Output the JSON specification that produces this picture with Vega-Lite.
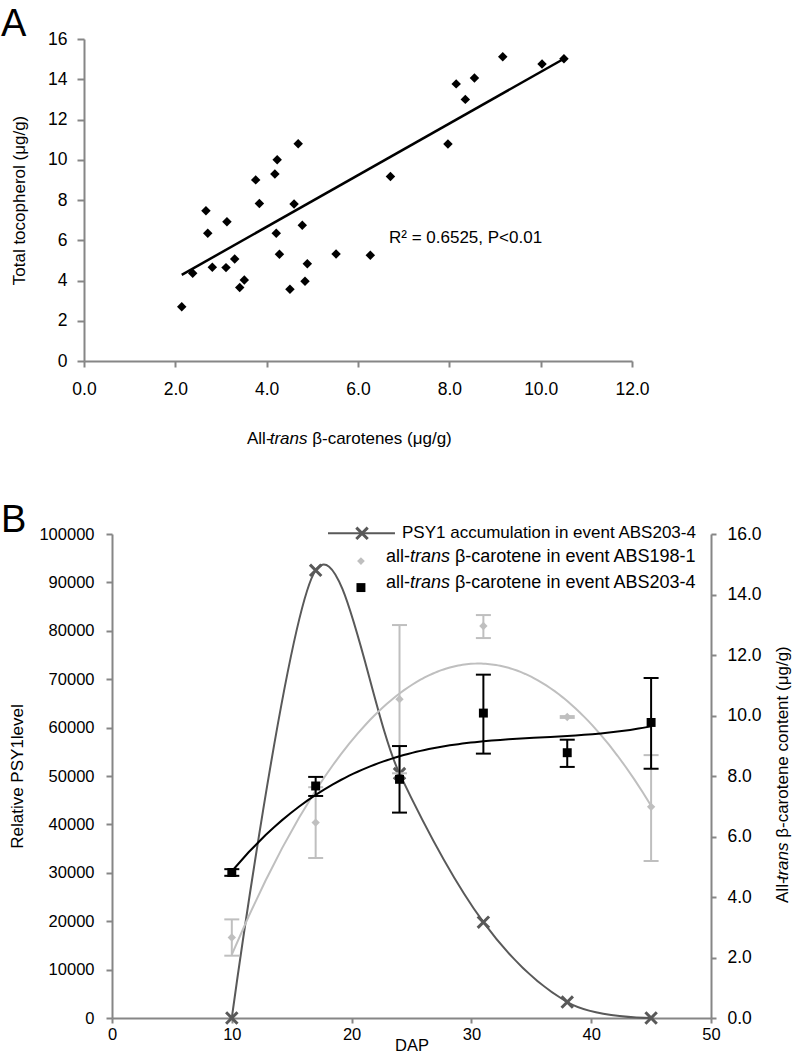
{
  "$schema": "https://vega.github.io/schema/vega-lite/v6.json",
  "background": "white",
  "padding": {"left": 1, "top": 5, "right": 0, "bottom": 0},
  "spacing": 55,
  "config": {
    "font": "Liberation Sans",
    "view": {"stroke": null},
    "axis": {"grid": false, "domainColor": "#868686", "domainWidth": 2, "tickColor": "#868686", "tickWidth": 2, "labelColor": "#000000", "labelFont": "Liberation Sans", "titleFont": "Liberation Sans", "titleFontWeight": "normal", "titleColor": "#000000", "labelFlush": false, "labelOverlap": false},
    "text": {"font": "Liberation Sans", "color": "#000000"}
  },
  "datasets": {
    "scatter": [
      {"beta": 2.14, "toco": 2.70}, {"beta": 2.38, "toco": 4.36}, {"beta": 2.67, "toco": 7.46}, {"beta": 2.71, "toco": 6.35},
      {"beta": 2.81, "toco": 4.66}, {"beta": 3.11, "toco": 4.64}, {"beta": 3.13, "toco": 6.92}, {"beta": 3.30, "toco": 5.07},
      {"beta": 3.41, "toco": 3.65}, {"beta": 3.51, "toco": 4.03}, {"beta": 3.76, "toco": 9.00}, {"beta": 3.84, "toco": 7.83},
      {"beta": 4.18, "toco": 9.29}, {"beta": 4.23, "toco": 10.00}, {"beta": 4.21, "toco": 6.35}, {"beta": 4.28, "toco": 5.31},
      {"beta": 4.51, "toco": 3.57}, {"beta": 4.60, "toco": 7.80}, {"beta": 4.69, "toco": 10.80}, {"beta": 4.78, "toco": 6.75},
      {"beta": 4.84, "toco": 3.96}, {"beta": 4.89, "toco": 4.83}, {"beta": 5.52, "toco": 5.32}, {"beta": 6.27, "toco": 5.26},
      {"beta": 6.71, "toco": 9.17}, {"beta": 7.97, "toco": 10.78}, {"beta": 8.15, "toco": 13.77}, {"beta": 8.35, "toco": 13.00},
      {"beta": 8.55, "toco": 14.06}, {"beta": 9.17, "toco": 15.12}, {"beta": 10.03, "toco": 14.76}, {"beta": 10.51, "toco": 15.02}
    ],
    "fit": [{"beta": 2.14, "toco": 4.28}, {"beta": 10.51, "toco": 15.02}],
    "psy": [
      {"dap": 10, "v": 0}, {"dap": 17, "v": 92500}, {"dap": 24, "v": 50500},
      {"dap": 31, "v": 19800}, {"dap": 38, "v": 3300}, {"dap": 45, "v": 0}
    ],
    "b198": [
      {"dap": 10, "v": 2.66, "lo": 2.06, "hi": 3.26}, {"dap": 17, "v": 6.46, "lo": 5.29, "hi": 7.63},
      {"dap": 24, "v": 10.54, "lo": 8.09, "hi": 12.99}, {"dap": 31, "v": 12.96, "lo": 12.56, "hi": 13.32},
      {"dap": 38, "v": 9.95, "lo": 9.92, "hi": 9.98}, {"dap": 45, "v": 6.98, "lo": 5.19, "hi": 8.69}
    ],
    "b203": [
      {"dap": 10, "v": 4.81, "lo": 4.70, "hi": 4.92}, {"dap": 17, "v": 7.67, "lo": 7.34, "hi": 7.97},
      {"dap": 24, "v": 7.89, "lo": 6.79, "hi": 8.99}, {"dap": 31, "v": 10.08, "lo": 8.74, "hi": 11.35},
      {"dap": 38, "v": 8.77, "lo": 8.30, "hi": 9.20}, {"dap": 45, "v": 9.77, "lo": 8.24, "hi": 11.24}
    ]
  },
  "vconcat": [
    {
      "width": 520,
      "height": 322,
      "layer": [
        {
          "data": {"name": "scatter"},
          "mark": {"type": "point", "shape": "diamond", "filled": true, "color": "#000000", "size": 90, "opacity": 1},
          "encoding": {
            "x": {"field": "beta", "type": "quantitative", "scale": {"domain": [0, 12], "range": [-28, 520], "nice": false, "zero": false},
                  "axis": {"values": [0, 2, 4, 6, 8, 10, 12], "format": ".1f", "title": null, "tickSize": 6, "labelPadding": 13, "labelFontSize": 17.5}},
            "y": {"field": "toco", "type": "quantitative", "scale": {"domain": [0, 16], "nice": false},
                  "axis": {"offset": 28, "values": [0, 2, 4, 6, 8, 10, 12, 14, 16], "format": "d", "title": "Total tocopherol (μg/g)", "titleFontSize": 17, "titlePadding": 19, "tickSize": 7, "labelPadding": 10, "labelFontSize": 17.5}}
          }
        },
        {
          "data": {"name": "fit"},
          "mark": {"type": "line", "color": "#000000", "strokeWidth": 2.5},
          "encoding": {
            "x": {"field": "beta", "type": "quantitative"},
            "y": {"field": "toco", "type": "quantitative"}
          }
        },
        {
          "data": {"values": [{}]},
          "mark": {"type": "text", "text": "R² = 0.6525, P<0.01", "align": "left", "baseline": "middle", "fontSize": 17},
          "encoding": {"x": {"datum": 6.679}, "y": {"datum": 6.11}}
        },
        {
          "data": {"values": [{}]},
          "mark": {"type": "text", "text": "A", "align": "left", "baseline": "alphabetic", "fontSize": 38},
          "encoding": {"x": {"datum": -1.8175}, "y": {"datum": 16.15}}
        },
        {
          "data": {"values": [{}]},
          "mark": {"type": "text", "text": "All-", "align": "left", "baseline": "alphabetic", "fontSize": 17},
          "encoding": {"x": {"datum": 3.569}, "y": {"datum": -4.12}}
        },
        {
          "data": {"values": [{}]},
          "mark": {"type": "text", "text": "trans", "align": "left", "baseline": "alphabetic", "fontSize": 17, "fontStyle": "italic"},
          "encoding": {"x": {"datum": 4.067}, "y": {"datum": -4.12}}
        },
        {
          "data": {"values": [{}]},
          "mark": {"type": "text", "text": "β-carotenes (μg/g)", "align": "left", "baseline": "alphabetic", "fontSize": 17},
          "encoding": {"x": {"datum": 4.997}, "y": {"datum": -4.12}}
        }
      ]
    },
    {
      "width": 599,
      "height": 484,
      "resolve": {"scale": {"y": "independent"}},
      "layer": [
        {
          "layer": [
            {
              "data": {"name": "psy"},
              "mark": {"type": "line", "interpolate": "cardinal", "color": "#595959", "strokeWidth": 2},
              "encoding": {
                "x": {"field": "dap", "type": "quantitative", "scale": {"domain": [0, 50], "nice": false, "zero": false},
                      "axis": {"values": [0, 10, 20, 30, 40, 50], "format": "d", "title": "DAP", "titleFontSize": 16.5, "titlePadding": -5, "tickSize": 5, "labelPadding": 3, "labelFontSize": 16.5}},
                "y": {"field": "v", "type": "quantitative", "scale": {"domain": [0, 100000], "nice": false},
                      "axis": {"orient": "left", "values": [0, 10000, 20000, 30000, 40000, 50000, 60000, 70000, 80000, 90000, 100000], "format": "d", "title": "Relative PSY1level", "titleFontSize": 17, "titlePadding": 12, "tickSize": 6, "labelPadding": 12, "labelFontSize": 16.5}}
              }
            },
            {
              "data": {"name": "psy"},
              "mark": {"type": "point", "shape": "M-1,-1L1,1M-1,1L1,-1", "filled": false, "color": "#595959", "strokeWidth": 3, "size": 130, "opacity": 1},
              "encoding": {
                "x": {"field": "dap", "type": "quantitative"},
                "y": {"field": "v", "type": "quantitative"}
              }
            },
            {
              "data": {"values": [{}]},
              "mark": {"type": "rule", "color": "#595959", "strokeWidth": 2},
              "encoding": {"x": {"datum": 18.03}, "x2": {"datum": 23.62}, "y": {"datum": 100145}}
            },
            {
              "data": {"values": [{}]},
              "mark": {"type": "point", "shape": "M-1,-1L1,1M-1,1L1,-1", "filled": false, "color": "#595959", "strokeWidth": 3, "size": 130, "opacity": 1},
              "encoding": {"x": {"datum": 20.87}, "y": {"datum": 100145}}
            },
            {
              "data": {"values": [{}]},
              "mark": {"type": "text", "text": "PSY1  accumulation in event ABS203-4", "align": "left", "baseline": "middle", "fontSize": 17},
              "encoding": {"x": {"datum": 24.21}, "y": {"datum": 100145}}
            },
            {
              "data": {"values": [{}]},
              "mark": {"type": "point", "shape": "diamond", "filled": true, "color": "#BFBFBF", "size": 60, "opacity": 1},
              "encoding": {"x": {"datum": 20.78}, "y": {"datum": 94420}}
            },
            {
              "data": {"values": [{}]},
              "mark": {"type": "text", "text": "all-", "align": "left", "baseline": "middle", "fontSize": 18},
              "encoding": {"x": {"datum": 22.87}, "y": {"datum": 95290}}
            },
            {
              "data": {"values": [{}]},
              "mark": {"type": "text", "text": "trans", "align": "left", "baseline": "middle", "fontSize": 18, "fontStyle": "italic"},
              "encoding": {"x": {"datum": 24.87}, "y": {"datum": 95290}}
            },
            {
              "data": {"values": [{}]},
              "mark": {"type": "text", "text": "β-carotene in event ABS198-1", "align": "left", "baseline": "middle", "fontSize": 18},
              "encoding": {"x": {"datum": 28.63}, "y": {"datum": 95290}}
            },
            {
              "data": {"values": [{}]},
              "mark": {"type": "point", "shape": "square", "filled": true, "color": "#000000", "size": 80, "opacity": 1},
              "encoding": {"x": {"datum": 20.78}, "y": {"datum": 88930}}
            },
            {
              "data": {"values": [{}]},
              "mark": {"type": "text", "text": "all-", "align": "left", "baseline": "middle", "fontSize": 18},
              "encoding": {"x": {"datum": 22.87}, "y": {"datum": 89810}}
            },
            {
              "data": {"values": [{}]},
              "mark": {"type": "text", "text": "trans", "align": "left", "baseline": "middle", "fontSize": 18, "fontStyle": "italic"},
              "encoding": {"x": {"datum": 24.87}, "y": {"datum": 89810}}
            },
            {
              "data": {"values": [{}]},
              "mark": {"type": "text", "text": "β-carotene in event ABS203-4", "align": "left", "baseline": "middle", "fontSize": 18},
              "encoding": {"x": {"datum": 28.63}, "y": {"datum": 89810}}
            },
            {
              "data": {"values": [{}]},
              "mark": {"type": "text", "text": "B", "align": "left", "baseline": "alphabetic", "fontSize": 38},
              "encoding": {"x": {"datum": -9.265}, "y": {"datum": 100350}}
            }
          ]
        },
        {
          "layer": [
            {
              "data": {"name": "b198"},
              "transform": [{"regression": "v", "on": "dap", "method": "poly", "order": 2}],
              "mark": {"type": "line", "color": "#BFBFBF", "strokeWidth": 2},
              "encoding": {
                "x": {"field": "dap", "type": "quantitative"},
                "y": {"field": "v", "type": "quantitative", "scale": {"domain": [0, 16], "nice": false},
                      "axis": {"orient": "right", "values": [0, 2, 4, 6, 8, 10, 12, 14, 16], "format": ".1f", "title": null, "tickSize": 5, "labelPadding": 11, "labelFontSize": 17.5}}
              }
            },
            {
              "data": {"name": "b198"},
              "mark": {"type": "rule", "color": "#BFBFBF", "strokeWidth": 2},
              "encoding": {
                "x": {"field": "dap", "type": "quantitative"},
                "y": {"field": "lo", "type": "quantitative"},
                "y2": {"field": "hi"}
              }
            },
            {
              "data": {"name": "b198"},
              "mark": {"type": "tick", "orient": "horizontal", "color": "#BFBFBF", "size": 15, "thickness": 2, "opacity": 1},
              "encoding": {
                "x": {"field": "dap", "type": "quantitative"},
                "y": {"field": "lo", "type": "quantitative"}
              }
            },
            {
              "data": {"name": "b198"},
              "mark": {"type": "tick", "orient": "horizontal", "color": "#BFBFBF", "size": 15, "thickness": 2, "opacity": 1},
              "encoding": {
                "x": {"field": "dap", "type": "quantitative"},
                "y": {"field": "hi", "type": "quantitative"}
              }
            },
            {
              "data": {"name": "b198"},
              "mark": {"type": "point", "shape": "diamond", "filled": true, "color": "#BFBFBF", "size": 70, "opacity": 1},
              "encoding": {
                "x": {"field": "dap", "type": "quantitative"},
                "y": {"field": "v", "type": "quantitative"}
              }
            },
            {
              "data": {"name": "b203"},
              "transform": [{"regression": "v", "on": "dap", "method": "poly", "order": 3}],
              "mark": {"type": "line", "color": "#000000", "strokeWidth": 2},
              "encoding": {
                "x": {"field": "dap", "type": "quantitative"},
                "y": {"field": "v", "type": "quantitative"}
              }
            },
            {
              "data": {"name": "b203"},
              "mark": {"type": "rule", "color": "#000000", "strokeWidth": 2},
              "encoding": {
                "x": {"field": "dap", "type": "quantitative"},
                "y": {"field": "lo", "type": "quantitative"},
                "y2": {"field": "hi"}
              }
            },
            {
              "data": {"name": "b203"},
              "mark": {"type": "tick", "orient": "horizontal", "color": "#000000", "size": 15, "thickness": 2, "opacity": 1},
              "encoding": {
                "x": {"field": "dap", "type": "quantitative"},
                "y": {"field": "lo", "type": "quantitative"}
              }
            },
            {
              "data": {"name": "b203"},
              "mark": {"type": "tick", "orient": "horizontal", "color": "#000000", "size": 15, "thickness": 2, "opacity": 1},
              "encoding": {
                "x": {"field": "dap", "type": "quantitative"},
                "y": {"field": "hi", "type": "quantitative"}
              }
            },
            {
              "data": {"name": "b203"},
              "mark": {"type": "point", "shape": "square", "filled": true, "color": "#000000", "size": 80, "opacity": 1},
              "encoding": {
                "x": {"field": "dap", "type": "quantitative"},
                "y": {"field": "v", "type": "quantitative"}
              }
            },
            {
              "data": {"values": [{}]},
              "mark": {"type": "text", "text": "All-", "align": "left", "baseline": "alphabetic", "angle": 270, "fontSize": 17},
              "encoding": {"x": {"datum": 56.43}, "y": {"datum": 3.802}}
            },
            {
              "data": {"values": [{}]},
              "mark": {"type": "text", "text": "trans", "align": "left", "baseline": "alphabetic", "angle": 270, "fontSize": 17, "fontStyle": "italic"},
              "encoding": {"x": {"datum": 56.43}, "y": {"datum": 4.552}}
            },
            {
              "data": {"values": [{}]},
              "mark": {"type": "text", "text": "β-carotene content (μg/g)", "align": "left", "baseline": "alphabetic", "angle": 270, "fontSize": 17},
              "encoding": {"x": {"datum": 56.43}, "y": {"datum": 5.957}}
            }
          ]
        }
      ]
    }
  ]
}
